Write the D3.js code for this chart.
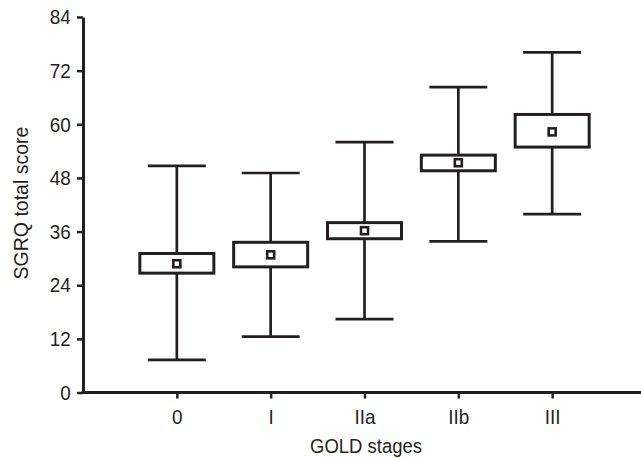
<!DOCTYPE html>
<meta charset="utf-8">
<style>
  body { margin: 0; background: #fff; }
  text { font-family: "Liberation Sans", Arial, sans-serif; fill: #231f20; }
</style>
<svg id="mainsvg" width="641" height="459"></svg>
<script src="https://cdn.jsdelivr.net/npm/d3@7"></script>
<script>

// values
const stages = ["0", "I", "IIa", "IIb", "III"]
const whiskerLow = [7.3, 12.5, 16.4, 33.8, 39.9]
const q1 = [26.7, 28.1, 34.4, 49.6, 54.9]
const means = [28.8, 30.8, 36.2, 51.4, 58.3]
const q3 = [31.1, 33.6, 38.0, 53.1, 62.2]
const whiskerHigh = [50.7, 49.1, 56.0, 68.3, 76.1]
const yTicks = [0, 12, 24, 36, 48, 60, 72, 84]

const ink = "#231f20"
const boxW = 74, capW = 58, markSize = 7
const squeeze = 0.9   // tick labels are set in a condensed face

const svg = d3.select("#mainsvg")

const x = d3.scalePoint()
    .domain(stages)
    .range([83, 646])
    .padding(1)

const y = d3.scaleLinear()
    .domain([0, 84])
    .range([392.5, 17])

const rows = stages.map((s, i) => ({
  stage: s,
  lo: whiskerLow[i], q1: q1[i], mean: means[i], q3: q3[i], hi: whiskerHigh[i]
}))

// axes
const yAxis = svg.append("g")
    .attr("transform", "translate(83,0)")
    .call(d3.axisLeft(y).tickValues(yTicks).tickSize(6).tickPadding(6).tickSizeOuter(0))
yAxis.select(".domain").attr("stroke", ink).attr("stroke-width", 3)
yAxis.selectAll(".tick line").attr("stroke", ink).attr("stroke-width", 2.5)
yAxis.selectAll(".tick text")
    .style("font-size", "21px")
    .attr("fill", ink)
    .attr("x", -12.3 / squeeze)
    .attr("transform", `scale(${squeeze},1)`)

const xAxis = svg.append("g")
    .attr("transform", "translate(0,392.5)")
    .call(d3.axisBottom(x).tickSize(6).tickPadding(10.5).tickSizeOuter(0))
xAxis.select(".domain").attr("stroke", ink).attr("stroke-width", 3)
  .attr("d", "M81.5,0H641")
xAxis.selectAll(".tick line").attr("stroke", ink).attr("stroke-width", 2.5)
xAxis.selectAll(".tick text")
    .style("font-size", "21px")
    .attr("fill", ink)
    .attr("transform", `scale(${squeeze},1)`)

// boxes
const g = svg.append("g")
    .attr("stroke", ink)
    .attr("fill", "none")

const box = g.selectAll("g")
  .data(rows)
  .join("g")
    .attr("transform", d => `translate(${x(d.stage)},0)`)

box.append("line")
    .attr("y1", d => y(d.hi)).attr("y2", d => y(d.q3))
    .attr("stroke-width", 2.7)
box.append("line")
    .attr("y1", d => y(d.q1)).attr("y2", d => y(d.lo))
    .attr("stroke-width", 2.7)
box.append("line")
    .attr("x1", -capW / 2).attr("x2", capW / 2)
    .attr("y1", d => y(d.hi)).attr("y2", d => y(d.hi))
    .attr("stroke-width", 2.7)
box.append("line")
    .attr("x1", -capW / 2).attr("x2", capW / 2)
    .attr("y1", d => y(d.lo)).attr("y2", d => y(d.lo))
    .attr("stroke-width", 2.7)
box.append("rect")
    .attr("x", -boxW / 2)
    .attr("width", boxW)
    .attr("y", d => y(d.q3))
    .attr("height", d => y(d.q1) - y(d.q3))
    .attr("fill", "#fff")
    .attr("stroke-width", 3)
box.append("rect")
    .attr("x", -markSize / 2)
    .attr("width", markSize)
    .attr("y", d => y(d.mean) - markSize / 2)
    .attr("height", markSize)
    .attr("stroke-width", 2.6)

// axis titles
svg.append("text")
    .attr("transform", "translate(28,203) rotate(-90)")
    .attr("text-anchor", "middle")
    .style("font-size", "19.5px")
    .text("SGRQ total score")

svg.append("text")
    .attr("x", 366)
    .attr("y", 453)
    .attr("text-anchor", "middle")
    .attr("textLength", 112)
    .attr("lengthAdjust", "spacingAndGlyphs")
    .style("font-size", "20px")
    .text("GOLD stages")

</script>
